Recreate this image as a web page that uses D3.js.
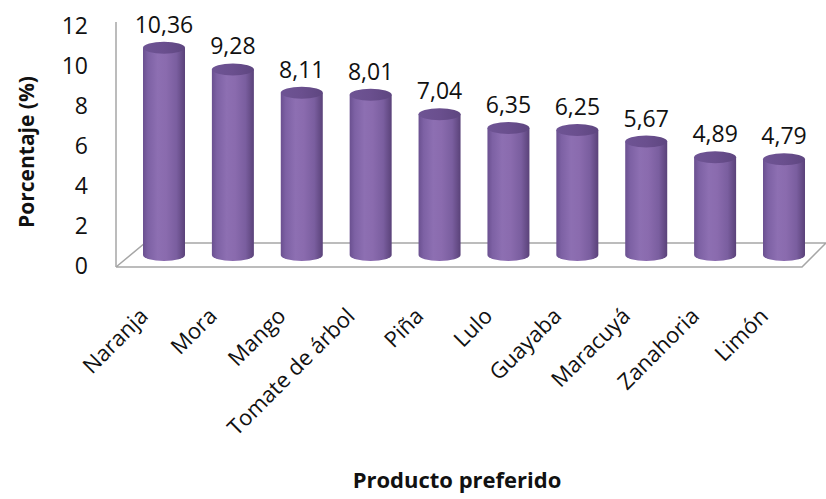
<!DOCTYPE html>
<html>
<head>
<meta charset="utf-8">
<script src="https://cdn.jsdelivr.net/npm/d3@7"></script>
<style>
  html, body { margin: 0; padding: 0; background: #fff; }
  svg { display: block; }
  text { font-family: "Open Sans", "Noto Sans", sans-serif; fill: #111; }
</style>
</head>
<body>
<svg id="chart" width="826" height="499"></svg>
<script>
const categories = ["Naranja", "Mora", "Mango", "Tomate de árbol", "Piña", "Lulo", "Guayaba", "Maracuyá", "Zanahoria", "Limón"];
const values = [10.36, 9.28, 8.11, 8.01, 7.04, 6.35, 6.25, 5.67, 4.89, 4.79];
const valueLabels = ["10,36", "9,28", "8,11", "8,01", "7,04", "6,35", "6,25", "5,67", "4,89", "4,79"];
const tickValues = [0, 2, 4, 6, 8, 10, 12];
const yTitle = "Porcentaje (%)";
const xTitle = "Producto preferido";

const svg = d3.select("#chart");

// Scales
const x = d3.scalePoint().domain(categories).range([164, 784]);
const yBar = d3.scaleLinear().domain([0, 12]).range([255, 15]);   // back plane (bars)
const yAxisScale = d3.scaleLinear().domain([0, 12]).range([266, 26]); // front plane (ticks)

const barW = 42, ry = 6;

// Gradients
const defs = svg.append("defs");
const g1 = defs.append("linearGradient").attr("id", "body").attr("x1", "0").attr("x2", "1").attr("y1", "0").attr("y2", "0");
[[0, "#6a5090"], [0.12, "#7d61a4"], [0.35, "#8d6fb2"], [0.55, "#8a6bae"], [0.8, "#7a5e9f"], [1, "#5a4279"]]
  .forEach(([o, c]) => g1.append("stop").attr("offset", o).attr("stop-color", c));
const g2 = defs.append("linearGradient").attr("id", "top").attr("x1", "0").attr("x2", "1").attr("y1", "0").attr("y2", "0");
[[0, "#6e5494"], [0.5, "#6a4f8e"], [1, "#5e4680"]]
  .forEach(([o, c]) => g2.append("stop").attr("offset", o).attr("stop-color", c));

// Floor / axis lines
const axisColor = "#a6a6a6";
const floorFront = yAxisScale(0) + 1, floorBack = floorFront - 24;
svg.append("path")
  .attr("d", `M116,${floorFront} L802,${floorFront} L826,${floorBack} M116,${floorFront} L145,${floorBack} L826,${floorBack}`)
  .attr("fill", "none").attr("stroke", axisColor).attr("stroke-width", 1.5);
svg.append("line").attr("x1", 116).attr("x2", 116).attr("y1", 22).attr("y2", floorFront)
  .attr("stroke", axisColor).attr("stroke-width", 1.5);

// Y axis ticks
const yAxis = d3.axisLeft(yAxisScale).tickValues(tickValues).tickSize(0).tickPadding(28).tickFormat(d3.format("d"));
const ga = svg.append("g").attr("transform", "translate(116,0)").call(yAxis);
ga.select(".domain").remove();
ga.selectAll("text").attr("font-size", 23).attr("font-family", "'Open Sans', sans-serif").attr("fill", "#111");

// Cylinders
const bars = svg.append("g").selectAll("g").data(values).join("g");
bars.append("path")
  .attr("d", (d, i) => {
    const cx = x(categories[i]), l = cx - barW / 2, r = cx + barW / 2;
    const top = yBar(d), base = yBar(0);
    return `M${l},${top} L${l},${base} A${barW / 2},${ry} 0 0 0 ${r},${base} L${r},${top} Z`;
  })
  .attr("fill", "url(#body)");
bars.append("ellipse")
  .attr("cx", (d, i) => x(categories[i]))
  .attr("cy", d => yBar(d))
  .attr("rx", barW / 2).attr("ry", ry)
  .attr("fill", "url(#top)");

// Value labels
bars.append("text")
  .attr("x", (d, i) => x(categories[i]))
  .attr("y", d => yBar(d) - ry - 9)
  .attr("text-anchor", "middle")
  .attr("font-size", 23)
  .text((d, i) => valueLabels[i]);

// Category labels
svg.append("g").selectAll("text").data(categories).join("text")
  .attr("transform", d => `translate(${x(d) - 20},${312}) rotate(-45)`)
  .attr("text-anchor", "end")
  .attr("dy", "0.35em")
  .attr("font-size", 22)
  .text(d => d);

// Axis titles
svg.append("text")
  .attr("transform", `translate(27,152) rotate(-90)`)
  .attr("text-anchor", "middle").attr("dy", "0.35em")
  .attr("font-size", 21).attr("font-weight", "bold")
  .text(yTitle);
svg.append("text")
  .attr("x", 457).attr("y", 480).attr("dy", "0.35em")
  .attr("text-anchor", "middle")
  .attr("font-size", 22).attr("font-weight", "bold")
  .text(xTitle);
</script>
</body>
</html>
